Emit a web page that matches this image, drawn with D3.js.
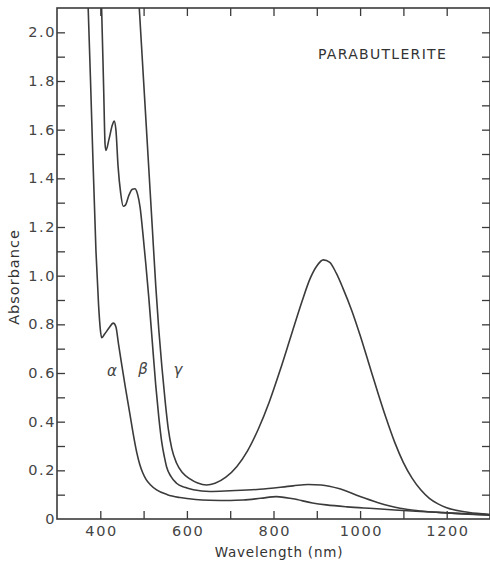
<!DOCTYPE html>
<html>
<head>
<meta charset="utf-8">
<script src="https://cdn.jsdelivr.net/npm/d3@7"></script>
<style>
  body { margin: 0; background: #fff; }
  svg { display: block; }
</style>
</head>
<body>
<div id="chart"></div>
<script>
// spectres (longueur d'onde nm, absorbance)
const alphaWl  = [368, 372, 380, 390, 396, 400, 403, 410, 420, 430, 436, 442, 449, 458, 468, 476, 484, 491, 498, 506, 515, 530, 555, 584, 620, 653, 700, 730, 770, 807, 845, 890, 922, 970, 1030, 1080, 1150, 1220, 1300];
const alphaAbs = [2.25, 2.10, 1.65, 1.10, 0.88, 0.78, 0.745, 0.76, 0.785, 0.805, 0.79, 0.72, 0.64, 0.54, 0.435, 0.35, 0.275, 0.225, 0.19, 0.162, 0.142, 0.12, 0.10, 0.088, 0.08, 0.077, 0.076, 0.078, 0.085, 0.092, 0.083, 0.066, 0.058, 0.05, 0.043, 0.037, 0.03, 0.023, 0.017];

const betaWl  = [400, 403, 408, 411, 413, 420, 428, 432, 436, 441, 447, 453, 458, 466, 474, 480, 486, 492, 498, 505, 512, 520, 528, 535, 542, 548, 553, 563, 576, 595, 615, 653, 700, 768, 845, 880, 910, 953, 1000, 1040, 1092, 1140, 1192, 1250, 1300];
const betaAbs = [2.25, 2.10, 1.75, 1.54, 1.515, 1.56, 1.62, 1.635, 1.60, 1.45, 1.34, 1.285, 1.29, 1.33, 1.355, 1.357, 1.335, 1.28, 1.18, 1.05, 0.91, 0.73, 0.55, 0.42, 0.315, 0.255, 0.215, 0.175, 0.147, 0.13, 0.12, 0.113, 0.116, 0.122, 0.136, 0.142, 0.14, 0.124, 0.092, 0.068, 0.044, 0.033, 0.026, 0.02, 0.016];

const gammaWl  = [485, 490, 500, 510, 520, 528, 535, 542, 550, 557, 565, 576, 590, 607, 625, 645, 665, 690, 715, 740, 765, 790, 815, 840, 865, 885, 900, 915, 930, 945, 960, 980, 1000, 1020, 1040, 1060, 1080, 1100, 1120, 1140, 1160, 1180, 1200, 1240, 1270, 1300];
const gammaAbs = [2.25, 2.10, 1.80, 1.50, 1.20, 0.96, 0.78, 0.63, 0.48, 0.37, 0.29, 0.23, 0.19, 0.165, 0.148, 0.14, 0.147, 0.172, 0.215, 0.28, 0.37, 0.48, 0.61, 0.75, 0.89, 0.99, 1.04, 1.065, 1.055, 1.01, 0.95, 0.86, 0.755, 0.64, 0.525, 0.415, 0.315, 0.232, 0.168, 0.12, 0.085, 0.062, 0.046, 0.03, 0.023, 0.018];

const xTicks = [400, 500, 600, 700, 800, 900, 1000, 1100, 1200];
const yTicks = [0.1, 0.2, 0.3, 0.4, 0.5, 0.6, 0.7, 0.8, 0.9, 1.0, 1.1, 1.2, 1.3, 1.4, 1.5, 1.6, 1.7, 1.8, 1.9, 2.0];

const curves = [
  { name: "α", wl: alphaWl, abs: alphaAbs, lx: 112, ly: 376 },
  { name: "β", wl: betaWl, abs: betaAbs, lx: 143, ly: 374 },
  { name: "γ", wl: gammaWl, abs: gammaAbs, lx: 178, ly: 375 }
];

const W = 490, H = 564;
const margin = { left: 57, top: 8, right: 490, bottom: 519 };
const ink = "#3b3b3b";
const font = "'DejaVu Sans', sans-serif";

const svg = d3.select("#chart").append("svg")
  .attr("width", W)
  .attr("height", H);

const x = d3.scaleLinear().domain([300, 1300]).range([margin.left, margin.right]);
const y = d3.scaleLinear().domain([0, 2.1]).range([margin.bottom, margin.top]);

svg.append("clipPath").attr("id", "plot")
  .append("rect")
  .attr("x", margin.left).attr("y", margin.top)
  .attr("width", margin.right - margin.left).attr("height", margin.bottom - margin.top);

// axes avec graduations vers l'intérieur
const fmtX = d => (d % 200 === 0 ? d : "");
const fmtY = d => {
  const k = Math.round(d * 10);
  if (k % 2 !== 0) return "";
  return k === 0 ? "0" : d3.format(".1f")(d);
};

const gx = svg.append("g")
  .attr("transform", "translate(0," + margin.bottom + ")")
  .call(d3.axisBottom(x).tickValues(xTicks).tickSize(-8).tickPadding(7).tickFormat(fmtX));

const gy = svg.append("g")
  .attr("transform", "translate(" + margin.left + ",0)")
  .call(d3.axisLeft(y).tickValues([0].concat(yTicks)).tickSize(-8).tickPadding(1).tickFormat(fmtY));

const gxt = svg.append("g")
  .attr("transform", "translate(0," + margin.top + ")")
  .call(d3.axisTop(x).tickValues(xTicks).tickSize(-8).tickFormat(""));

const gyr = svg.append("g")
  .attr("transform", "translate(" + margin.right + ",0)")
  .call(d3.axisRight(y).tickValues(yTicks).tickSize(-8).tickFormat(""));

[gx, gy, gxt, gyr].forEach(g => {
  g.select(".domain").remove();
  g.selectAll(".tick line").attr("stroke", ink).attr("stroke-width", 1.3);
  g.selectAll(".tick text")
    .attr("fill", "#444")
    .style("font-family", font)
    .style("font-size", "14.5px")
    .style("letter-spacing", "1.6px");
});
gx.selectAll(".tick text").attr("dx", "0.8px");
gy.selectAll(".tick line").filter(d => d === 0).remove();

// cadre
svg.append("rect")
  .attr("x", margin.left).attr("y", margin.top)
  .attr("width", margin.right - margin.left).attr("height", margin.bottom - margin.top)
  .attr("fill", "none")
  .attr("stroke", ink)
  .attr("stroke-width", 1.6);

const line = d3.line()
  .x(d => x(d[0]))
  .y(d => y(d[1]))
  .curve(d3.curveMonotoneX);

svg.append("g").attr("clip-path", "url(#plot)")
  .selectAll("path")
  .data(curves)
  .enter()
  .append("path")
  .attr("d", c => line(c.wl.map((w, i) => [w, c.abs[i]])))
  .attr("fill", "none")
  .attr("stroke", ink)
  .attr("stroke-width", 1.6);

svg.selectAll(".greek")
  .data(curves)
  .enter()
  .append("text")
  .attr("class", "greek")
  .attr("x", c => c.lx)
  .attr("y", c => c.ly)
  .attr("text-anchor", "middle")
  .attr("fill", "#444")
  .style("font-family", font)
  .style("font-style", "italic")
  .style("font-size", "15px")
  .text(c => c.name);

svg.append("text")
  .attr("x", 318)
  .attr("y", 59)
  .attr("fill", "#333")
  .style("font-family", font)
  .style("font-size", "14px")
  .style("letter-spacing", "1.3px")
  .text("PARABUTLERITE");

svg.append("text")
  .attr("x", 279)
  .attr("y", 557)
  .attr("text-anchor", "middle")
  .attr("fill", "#333")
  .style("font-family", font)
  .style("font-size", "13.5px")
  .style("letter-spacing", "0.8px")
  .text("Wavelength (nm)");

svg.append("text")
  .attr("transform", "translate(19,277) rotate(-90)")
  .attr("text-anchor", "middle")
  .attr("fill", "#333")
  .style("font-family", font)
  .style("font-size", "14.5px")
  .style("letter-spacing", "1px")
  .text("Absorbance");
</script>
</body>
</html>
